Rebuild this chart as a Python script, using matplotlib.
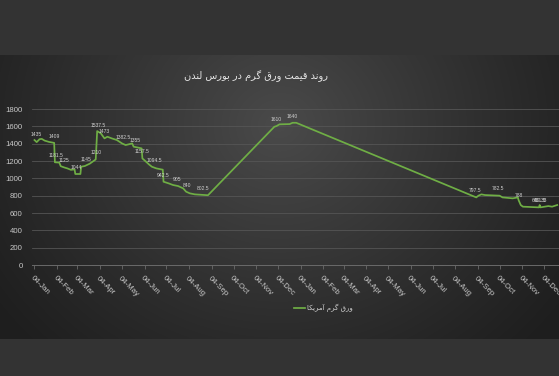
import numpy as np
import pandas as pd
import matplotlib
matplotlib.use("Agg")
import matplotlib.pyplot as plt
import matplotlib.dates as mdates

# ---------------- data ----------------
dates = [
    "2022-01-04", "2022-01-07", "2022-01-11", "2022-01-14", "2022-01-18", "2022-01-24",
    "2022-01-31", "2022-02-01", "2022-02-07", "2022-02-09", "2022-02-14", "2022-02-18",
    "2022-02-23", "2022-02-28", "2022-03-01", "2022-03-08", "2022-03-09", "2022-03-14",
    "2022-03-21", "2022-03-29", "2022-03-31", "2022-04-05", "2022-04-10", "2022-04-14",
    "2022-04-20", "2022-04-27", "2022-05-04", "2022-05-09", "2022-05-13", "2022-05-18",
    "2022-05-20", "2022-05-27", "2022-05-31", "2022-06-01", "2022-06-06", "2022-06-10",
    "2022-06-14", "2022-06-20", "2022-06-27", "2022-06-29", "2022-06-30", "2022-07-07",
    "2022-07-13", "2022-07-20", "2022-07-27", "2022-07-31", "2022-08-05", "2022-08-12",
    "2022-08-30", "2022-11-29", "2022-12-02", "2022-12-06", "2022-12-20", "2022-12-24",
    "2022-12-29", "2023-09-02", "2023-09-05", "2023-09-09", "2023-09-14", "2023-10-04",
    "2023-10-08", "2023-10-22", "2023-10-29", "2023-10-30", "2023-11-02", "2023-11-05",
    "2023-11-27", "2023-11-28", "2023-11-29", "2023-12-10", "2023-12-15", "2023-12-22",
]
prices = [
    1442, 1418, 1452, 1455, 1435, 1420,
    1409, 1185, 1182, 1140, 1125, 1115,
    1098, 1103, 1050, 1050, 1134, 1142,
    1170, 1218, 1545, 1519, 1461, 1480,
    1461, 1442, 1403, 1384, 1392, 1403,
    1365, 1353, 1345, 1230, 1192, 1161,
    1134, 1115, 1103, 1100, 961, 942,
    923, 911, 884, 846, 827, 815,
    805, 1595, 1603, 1623, 1626, 1641,
    1641, 780, 800, 815, 807, 800,
    780, 769, 780, 750, 692, 673,
    665, 692, 665, 680, 673, 692,
]
label_dates = [
    "2022-01-06", "2022-01-31", "2022-02-02", "2022-02-14", "2022-03-03", "2022-03-15",
    "2022-03-29", "2022-04-02", "2022-04-10", "2022-05-05", "2022-05-22", "2022-06-01",
    "2022-06-17", "2022-06-30", "2022-07-19", "2022-08-01", "2022-08-23", "2022-12-02",
    "2022-12-23", "2023-08-31", "2023-10-02", "2023-10-31", "2023-11-29", "2023-11-27",
]
label_texts = [
    "1435", "1409", "1181.5", "1125", "1044", "1145",
    "1210", "1537.5", "1473", "1382.5", "1355", "1157.5",
    "1094.5", "942.5", "905", "840", "802.5", "1610",
    "1640", "797.5", "782.5", "788", "651.5", "640.33",
]
yticks = [0, 200, 400, 600, 800, 1000, 1200, 1400, 1600, 1800]
title_text = "روند قیمت ورق گرم در بورس لندن"
legend_text = "ورق گرم آمریکا"

# ---------------- simple Persian shaping (presentation forms, RTL) ----------------
FORMS = {
    '\u0622': ('\uFE81', '\uFE82', None, None),
    '\u0627': ('\uFE8D', '\uFE8E', None, None),
    '\u0628': ('\uFE8F', '\uFE90', '\uFE91', '\uFE92'),
    '\u062A': ('\uFE95', '\uFE96', '\uFE97', '\uFE98'),
    '\u062F': ('\uFEA9', '\uFEAA', None, None),
    '\u0631': ('\uFEAD', '\uFEAE', None, None),
    '\u0633': ('\uFEB1', '\uFEB2', '\uFEB3', '\uFEB4'),
    '\u0642': ('\uFED5', '\uFED6', '\uFED7', '\uFED8'),
    '\u0644': ('\uFEDD', '\uFEDE', '\uFEDF', '\uFEE0'),
    '\u0645': ('\uFEE1', '\uFEE2', '\uFEE3', '\uFEE4'),
    '\u0646': ('\uFEE5', '\uFEE6', '\uFEE7', '\uFEE8'),
    '\u0648': ('\uFEED', '\uFEEE', None, None),
    '\u06A9': ('\uFB8E', '\uFB8F', '\uFB90', '\uFB91'),
    '\u06AF': ('\uFB92', '\uFB93', '\uFB94', '\uFB95'),
    '\u06CC': ('\uFBFC', '\uFBFD', '\uFBFE', '\uFBFF'),
}


def shape(s):
    out = []
    n = len(s)
    for i, ch in enumerate(s):
        if ch not in FORMS:
            out.append(ch)
            continue
        iso, fin, ini, med = FORMS[ch]
        prev = s[i - 1] if i > 0 else None
        nxt = s[i + 1] if i < n - 1 else None
        jp = prev in FORMS and FORMS[prev][2] is not None
        jn = nxt in FORMS and ini is not None
        if jp and jn:
            out.append(med)
        elif jp:
            out.append(fin)
        elif jn:
            out.append(ini)
        else:
            out.append(iso)
    return ''.join(reversed(out))


# ---------------- figure ----------------
W, H = 559, 376
fig = plt.figure(figsize=(W / 100, H / 100), dpi=100, facecolor="#333333")

# chart-area background with radial gradient
area_bottom = (H - 339) / H
area_height = (339 - 55) / H
bg = fig.add_axes([0, area_bottom, 1, area_height], zorder=-10)
gy, gx = np.mgrid[0:1:300j, 0:1:600j]
r = np.sqrt(((gx - 0.5) / 0.62) ** 2 + ((gy - 0.25) / 1.1) ** 2)
f = np.clip(1 - r, 0, 1) ** 1.1
c_edge, c_center = 0.12, 0.29
img = c_edge + (c_center - c_edge) * f
bg.imshow(np.dstack([img, img, img]), aspect="auto", extent=[0, 1, 0, 1], origin="upper")
bg.set_axis_off()

# main axes geometry (px per day ~0.729)
d0 = pd.Timestamp("2022-01-01")
d1 = pd.Timestamp("2023-12-31")
px_day = 0.729
left_px = 32.3
width_px = (d1 - d0).days * px_day
ax = fig.add_axes([left_px / W, (H - 265) / H, width_px / W, (265 - 109) / H])
ax.set_facecolor("none")

x = pd.to_datetime(dates)
line, = ax.plot(x, prices, color="#6fae45", lw=1.25, solid_joinstyle="round",
                label=shape(legend_text), zorder=3)

ax.set_xlim(d0, d1)
ax.set_ylim(0, 1800)
ax.set_yticks(yticks)
ax.grid(axis="y", color="#555555", lw=0.6)
ax.set_axisbelow(True)
for s in ["top", "right", "left"]:
    ax.spines[s].set_visible(False)
ax.spines["bottom"].set_color("#6a6a6a")
ax.spines["bottom"].set_linewidth(0.7)

ax.xaxis.set_major_locator(mdates.MonthLocator(bymonthday=4))
ax.xaxis.set_major_formatter(mdates.DateFormatter("%d-%b"))
ax.tick_params(axis="x", colors="#6a6a6a", length=3, width=0.6, pad=4,
               labelcolor="#c8c8c8", labelsize=5.6)
ax.tick_params(axis="y", length=0, pad=7, labelcolor="#c8c8c8", labelsize=5.6)
for lab in ax.get_xticklabels():
    lab.set_rotation(-45)
    lab.set_ha("left")
    lab.set_va("top")
    lab.set_rotation_mode("anchor")
    lab.set_fontfamily("Liberation Sans")
for lab in ax.get_yticklabels():
    lab.set_fontfamily("Liberation Sans")

# data labels
xnum = mdates.date2num(x)
for d, t in zip(label_dates, label_texts):
    dn = mdates.date2num(pd.Timestamp(d))
    yv = np.interp(dn, xnum, prices)
    ax.annotate(t, (dn, yv), xytext=(0, 3), textcoords="offset points",
                ha="center", va="bottom", fontsize=3.6, color="#d0d0d0",
                family="Liberation Sans", zorder=4, annotation_clip=False)

# title
fig.text(256 / W, (H - 76) / H, shape(title_text), ha="center", va="center",
         fontsize=7.0, color="#e6e6e6", family=["DejaVu Sans"])

# legend
leg = fig.legend(handles=[line], labels=[shape(legend_text)],
                 loc="center", bbox_to_anchor=(323 / W, (H - 308) / H),
                 frameon=False, handlelength=1.6, handletextpad=0.3,
                 borderpad=0, prop={"family": "DejaVu Sans", "size": 5})
for t in leg.get_texts():
    t.set_color("#d0d0d0")

fig.savefig("out.png", dpi=100, facecolor=fig.get_facecolor())
